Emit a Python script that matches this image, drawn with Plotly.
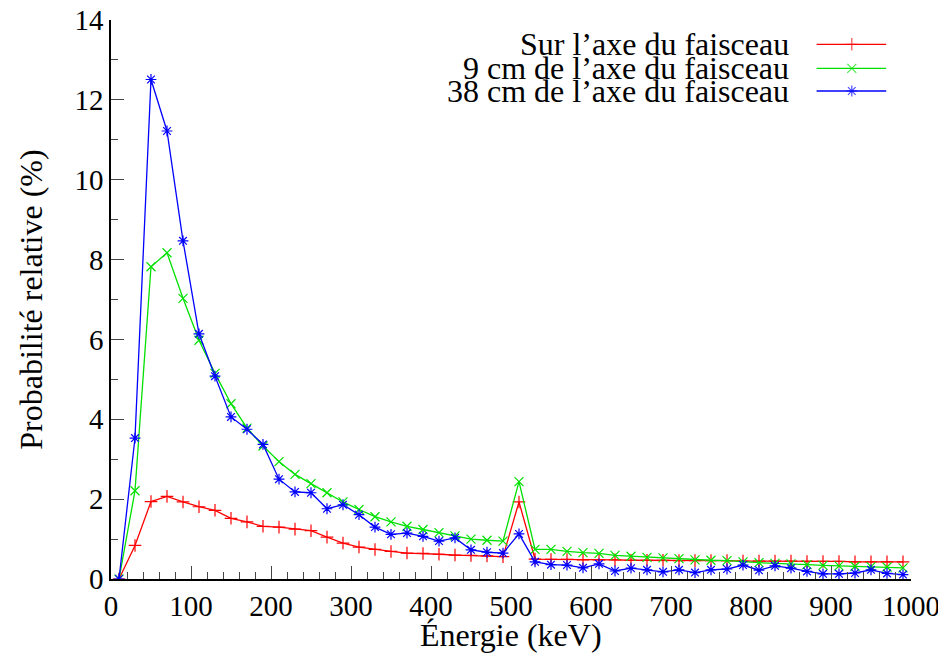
import plotly.graph_objects as go

# energie (keV), centre des canaux de 20 keV
energie = [10, 30, 50, 70, 90, 110, 130, 150, 170, 190,
           210, 230, 250, 270, 290, 310, 330, 350, 370, 390,
           410, 430, 450, 470, 490, 510, 530, 550, 570, 590,
           610, 630, 650, 670, 690, 710, 730, 750, 770, 790,
           810, 830, 850, 870, 890, 910, 930, 950, 970, 990]

sur_axe = [0, 0.84, 1.94, 2.07, 1.93, 1.81, 1.72, 1.52, 1.43, 1.32,
           1.30, 1.25, 1.21, 1.05, 0.90, 0.80, 0.74, 0.69, 0.65, 0.64,
           0.62, 0.60, 0.59, 0.58, 0.56, 1.93, 0.50, 0.49, 0.49, 0.48,
           0.48, 0.48, 0.47, 0.47, 0.47, 0.46, 0.46, 0.46, 0.46, 0.45,
           0.45, 0.45, 0.45, 0.44, 0.44, 0.44, 0.43, 0.43, 0.43, 0.43]

a_9cm = [0, 2.21, 7.82, 8.17, 7.03, 5.98, 5.15, 4.39, 3.78, 3.33,
         2.94, 2.62, 2.39, 2.16, 1.93, 1.74, 1.56, 1.43, 1.32, 1.24,
         1.16, 1.08, 1.00, 0.97, 0.95, 2.44, 0.74, 0.74, 0.69, 0.66,
         0.64, 0.59, 0.57, 0.54, 0.53, 0.51, 0.48, 0.47, 0.46, 0.43,
         0.41, 0.39, 0.38, 0.36, 0.34, 0.33, 0.32, 0.31, 0.30, 0.28]

a_38cm = [0, 3.53, 12.51, 11.22, 8.47, 6.14, 5.08, 4.06, 3.75, 3.37,
          2.50, 2.18, 2.16, 1.76, 1.86, 1.61, 1.30, 1.12, 1.15, 1.07,
          0.95, 1.03, 0.73, 0.67, 0.65, 1.13, 0.43, 0.36, 0.35, 0.28,
          0.38, 0.20, 0.27, 0.23, 0.18, 0.23, 0.16, 0.23, 0.25, 0.35,
          0.22, 0.33, 0.27, 0.19, 0.13, 0.13, 0.15, 0.23, 0.14, 0.11]

noms = ["Sur l’axe du faisceau", "9 cm de l’axe du faisceau", "38 cm de l’axe du faisceau"]
series = [sur_axe, a_9cm, a_38cm]
couleurs = ["#ff0000", "#00e000", "#0000ff"]
symboles = ["cross-thin", "x-thin", "asterisk"]

police = "Liberation Serif"
taille_ticks = 29
taille_texte = 32
fig = go.Figure()

for nom, y, c, s in zip(noms, series, couleurs, symboles):
    fig.add_trace(go.Scatter(
        x=energie, y=y, mode="lines+markers", name=nom,
        line=dict(color=c, width=1.3),
        marker=dict(symbol=s, size=9, color=c, line=dict(color=c, width=1.2)),
        showlegend=False,
    ))

# légende façon gnuplot : texte aligné à droite, échantillon à droite
leg_y = [0.9565, 0.9136, 0.873]
for i, (nom, c, s) in enumerate(zip(noms, couleurs, symboles)):
    fig.add_trace(go.Scatter(
        x=[0.882, 0.926, 0.969], y=[leg_y[i]] * 3, xaxis="x2", yaxis="y2",
        mode="lines+markers", line=dict(color=c, width=1.3),
        marker=dict(symbol=s, size=[0, 9, 0], color=c, line=dict(color=c, width=1.2)),
        showlegend=False, hoverinfo="skip",
    ))
    fig.add_annotation(x=0.85, y=leg_y[i], xref="x2", yref="y2", text=nom,
                       showarrow=False, xanchor="right", yanchor="middle",
                       font=dict(family=police, size=taille_texte, color="black"))

# titres des axes
fig.add_annotation(x=0.5, y=-0.1, xref="paper", yref="paper", text="Énergie (keV)",
                   showarrow=False, xanchor="center", yanchor="middle",
                   font=dict(family=police, size=taille_texte, color="black"))
fig.add_annotation(x=-0.101, y=0.5, xref="paper", yref="paper", text="Probabilité relative (%)",
                   showarrow=False, xanchor="center", yanchor="middle", textangle=-90,
                   font=dict(family=police, size=taille_texte, color="black"))

axe = dict(showline=True, linecolor="black", linewidth=1.5, mirror=False,
           showgrid=False, zeroline=False, ticks="inside", ticklen=13,
           tickwidth=1.2, tickcolor="#444", automargin=False, ticklabeloverflow="allow",
           tickfont=dict(family=police, size=taille_ticks, color="black"))

fig.update_layout(
    width=946, height=657,
    margin=dict(l=103, r=43, t=12, b=86),
    paper_bgcolor="white", plot_bgcolor="white",
    xaxis=dict(axe, range=[0, 1000], dtick=100,
               minor=dict(ticks="inside", ticklen=7, dtick=20, tickcolor="#444", tickwidth=1.2)),
    yaxis=dict(axe, range=[0, 14], dtick=2,
               minor=dict(ticks="inside", ticklen=7, dtick=1, tickcolor="#444", tickwidth=1.2)),
    xaxis2=dict(overlaying="x", range=[0, 1], visible=False),
    yaxis2=dict(overlaying="y", range=[0, 1], visible=False),
    showlegend=False,
)

fig.write_html("out.html")
